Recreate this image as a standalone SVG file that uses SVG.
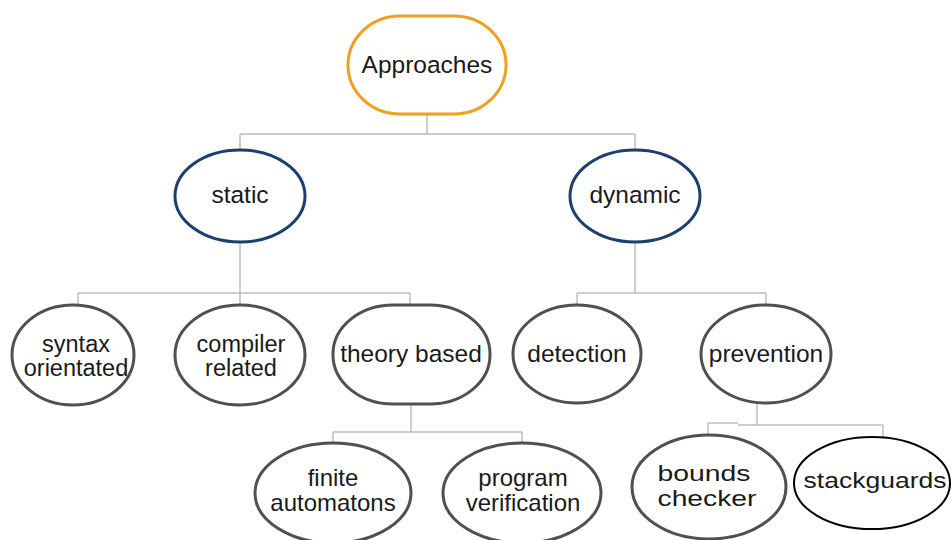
<svg xmlns="http://www.w3.org/2000/svg" width="951" height="540" viewBox="0 0 951 540">
<style>
.t{font-family:"Liberation Sans",Arial,sans-serif;font-size:24.5px;fill:#1a1a1a;text-anchor:middle}
.s{font-size:23.5px}
.m{font-size:24px}
.w{font-size:22px}
.g{fill:#fff;stroke:#505050;stroke-width:3}
.b{fill:#fff;stroke:#1d3f6e;stroke-width:3}
.o{fill:#fff;stroke:#f0a01e;stroke-width:3}
.k{fill:#fff;stroke:#000;stroke-width:2}
.c{fill:none;stroke:#bdbdbd;stroke-width:1.5}
</style>
<rect width="951" height="540" fill="#fff"/>
<g id="connectors">
<path class="c" d="M427 114V134M240 134H635M240 134V150M635 134V150"/>
<path class="c" d="M240 242V293M78 293H410M78 293V305M240 293V305M410 293V305"/>
<path class="c" d="M635 242V293M577 293H766M577 293V305M766 293V305"/>
<path class="c" d="M411 404V432M333 432H522M333 432V443M522 432V443"/>
<path class="c" d="M757 402V425M738 425H883M883 425V437M738 423H708M708 423V435"/>
</g>
<g id="approaches"><rect class="o" x="348" y="16" width="158" height="98" rx="52" ry="49"/><text class="t" x="427" y="73">Approaches</text></g>
<g id="static"><ellipse class="b" cx="240" cy="196" rx="65" ry="46"/><text class="t" x="240" y="203">static</text></g>
<g id="dynamic"><ellipse class="b" cx="635" cy="196" rx="65" ry="46"/><text class="t" x="635" y="203">dynamic</text></g>
<g id="syntax"><ellipse class="g" cx="73" cy="355" rx="61" ry="50"/><text class="t s" x="76" y="352">syntax</text><text class="t s" x="76" y="376">orientated</text></g>
<g id="compiler"><ellipse class="g" cx="240" cy="355" rx="65" ry="50"/><text class="t s" x="241" y="352">compiler</text><text class="t s" x="241" y="376">related</text></g>
<g id="theory"><rect class="g" x="333" y="305" width="157" height="99" rx="60" ry="49"/><text class="t" x="411" y="362">theory based</text></g>
<g id="detection"><ellipse class="g" cx="577" cy="354" rx="64" ry="49"/><text class="t" x="577" y="362">detection</text></g>
<g id="prevention"><ellipse class="g" cx="766" cy="354" rx="65" ry="49"/><text class="t" x="766" y="362">prevention</text></g>
<g id="finite"><ellipse class="g" cx="333" cy="493" rx="78" ry="50"/><text class="t m" x="333" y="486">finite</text><text class="t m" x="333" y="511">automatons</text></g>
<g id="program"><ellipse class="g" cx="522" cy="493" rx="79" ry="50"/><text class="t m" x="523" y="486">program</text><text class="t m" x="523" y="511">verification</text></g>
<g id="bounds"><ellipse class="g" cx="709" cy="487" rx="77" ry="52"/><text class="t w" x="704" y="481" textLength="93" lengthAdjust="spacingAndGlyphs">bounds</text><text class="t w" x="707" y="506" textLength="99" lengthAdjust="spacingAndGlyphs">checker</text></g>
<g id="stackguards"><ellipse class="k" cx="872" cy="483" rx="78" ry="46"/><text class="t w" x="875" y="488" textLength="143" lengthAdjust="spacingAndGlyphs">stackguards</text></g>
</svg>
